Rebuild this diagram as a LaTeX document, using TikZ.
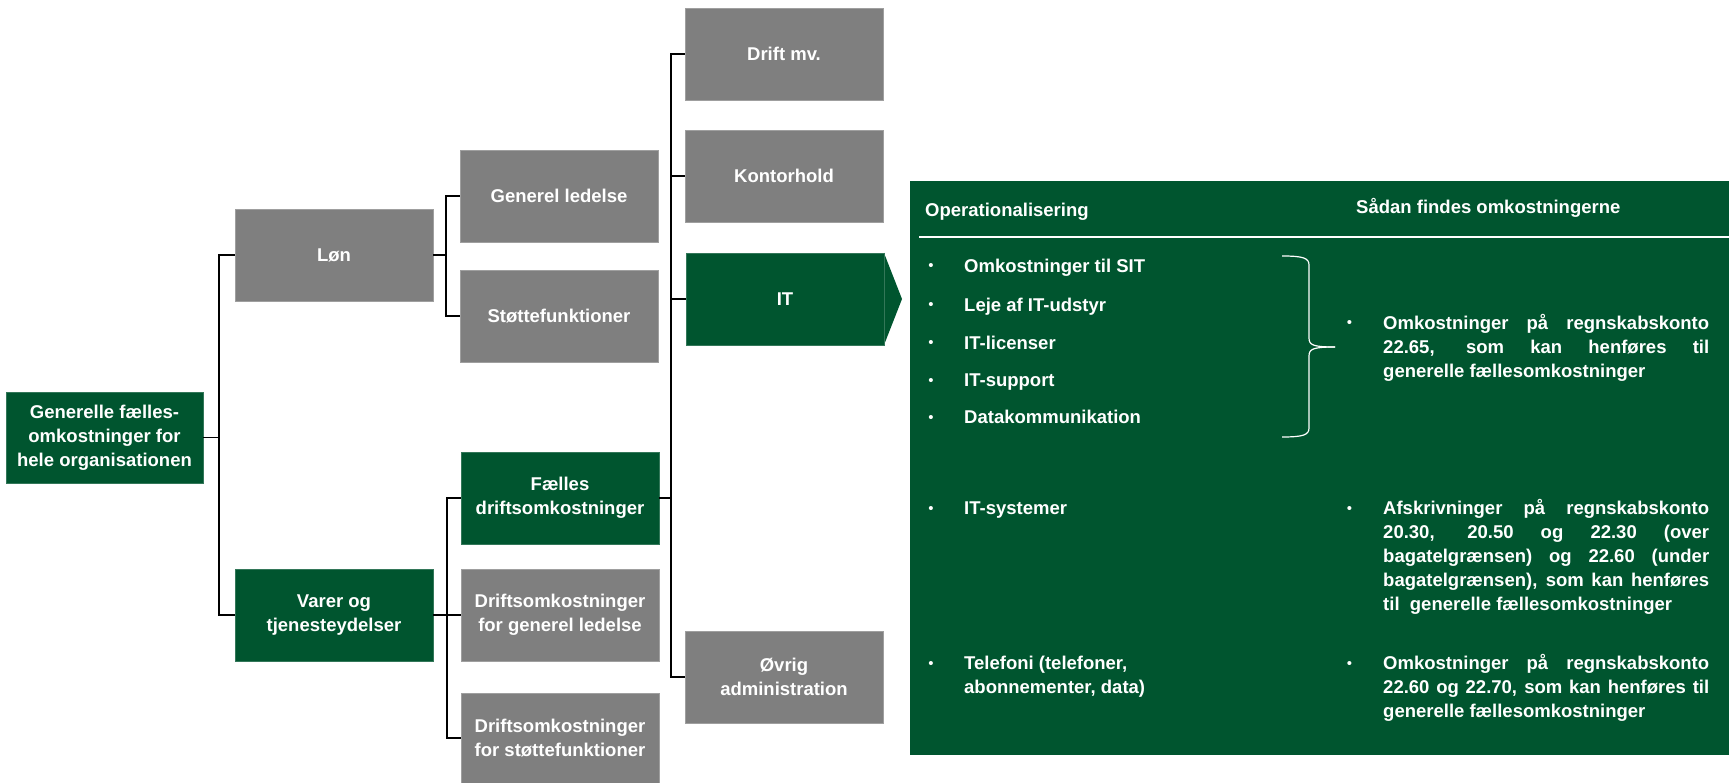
\documentclass[tikz,border=0pt]{standalone}
\usepackage{fontspec}
\setmainfont{Liberation Sans}
\usetikzlibrary{calc}
\definecolor{dkgreen}{HTML}{00552F}
\definecolor{boxgray}{HTML}{7F7F7F}
\tolerance=10000
\hbadness=10000
\newcommand{\jtext}[1]{\parbox[t]{326pt}{\tolerance=10000\hbadness=10000 #1}}
\begin{document}
\begin{tikzpicture}[x=1pt,y=-1pt,
  box/.style={minimum width=198pt, minimum height=92pt, inner sep=0pt, outer sep=0pt, text=white,
    font=\bfseries\fontsize{18.5}{24}\selectfont, align=center, anchor=north west},
  graybox/.style={box, fill=boxgray, draw=boxgray!75!white, line width=0.8pt},
  greenbox/.style={box, fill=dkgreen, draw=dkgreen!80!white, line width=0.8pt},
  conn/.style={draw=black, line width=1.7pt},
  ptext/.style={text=white, font=\bfseries\fontsize{18.5}{24}\selectfont, inner sep=0pt, anchor=base west},
  bul/.style={text=white, font=\fontsize{15}{15}\selectfont, inner sep=0pt, anchor=base},
]
\useasboundingbox (0,0) rectangle (1729,783);

% tree boxes
\node[greenbox, minimum width=197pt, minimum height=91pt] (root) at (6,392) {Generelle fælles-\\omkostninger for\\hele organisationen};
\node[graybox] (lon) at (235,209) {Løn};
\node[greenbox] (varer) at (235,569) {Varer og\\tjenesteydelser};
\node[graybox] (gl) at (460,150) {Generel ledelse};
\node[graybox] (sf) at (460,270) {Støttefunktioner};
\node[greenbox] (fd) at (461,452) {Fælles\\driftsomkostninger};
\node[graybox] (dgl) at (461,569) {Driftsomkostninger\\for generel ledelse};
\node[graybox, minimum height=90pt] (dsf) at (461,693) {Driftsomkostninger\\for støttefunktioner};
\node[graybox] (drift) at (685,8) {Drift mv.};
\node[graybox] (kontor) at (685,130) {Kontorhold};
\node[greenbox] (it) at (686,253) {IT};
\node[graybox] (ovrig) at (685,631) {Øvrig\\administration};

% IT arrow tip
\fill[dkgreen] (it.north east) -- ($(it.east)+(18,0)$) -- (it.south east) -- cycle;
\draw[dkgreen!80!white, line width=0.8pt] (it.north east) -- (it.south east);

% connectors
\draw[conn] (root.east) -- ++(16,0) |- (lon.west);
\draw[conn] (root.east) -- ++(16,0) |- (varer.west);
\draw[conn] (lon.east) -- ++(13,0) |- (gl.west);
\draw[conn] (lon.east) -- ++(13,0) |- (sf.west);
\draw[conn] (varer.east) -- ++(14,0) |- (fd.west);
\draw[conn] (varer.east) -- ++(14,0) |- (dgl.west);
\draw[conn] (varer.east) -- ++(14,0) |- (dsf.west);
\draw[conn] (fd.east) -- ++(12,0) |- (drift.west);
\draw[conn] (fd.east) -- ++(12,0) |- (kontor.west);
\draw[conn] (fd.east) -- ++(12,0) |- (it.west);
\draw[conn] (fd.east) -- ++(12,0) |- (ovrig.west);

% panel
\node[fill=dkgreen, minimum width=819pt, minimum height=574pt, anchor=north west, inner sep=0pt, outer sep=0pt] (panel) at (910,181) {};
\draw[white, line width=1.2pt] (919,237) -- (1729,237);

\node[ptext] (h1) at (925,216.5) {Operationalisering};
\node[ptext] (h2) at (1356,214) {Sådan findes omkostningerne};

% left items
\node[bul] (b1) at (931,271) {•};
\node[ptext] (t1) at (964,272.5) {Omkostninger til SIT};
\node[bul] (b2) at (931,310) {•};
\node[ptext] (t2) at (964,311.5) {Leje af IT-udstyr};
\node[bul] (b3) at (931,348) {•};
\node[ptext] (t3) at (964,349.5) {IT-licenser};
\node[bul] (b4) at (931,385) {•};
\node[ptext] (t4) at (964,386.5) {IT-support};
\node[bul] (b5) at (931,422) {•};
\node[ptext] (t5) at (964,423.5) {Datakommunikation};
\node[bul] (b6) at (931,513) {•};
\node[ptext] (t6) at (964,514.5) {IT-systemer};
\node[bul] (b7) at (931,668) {•};
\node[ptext] (t7) at (964,669.5) {\parbox[t]{300pt}{Telefoni (telefoner,\\abonnementer, data)}};

% brace
\draw[white, line width=1.2pt] (1282,256) .. controls (1303,256) and (1309,258) .. (1309,265)
  -- (1309,338) .. controls (1309,345) and (1313,347) .. (1335,347);
\draw[white, line width=1.2pt] (1335,347) .. controls (1313,347) and (1309,349) .. (1309,356)
  -- (1309,428) .. controls (1309,435) and (1303,437) .. (1282,437);

% right items
\node[bul] (rb1) at (1349.5,328) {•};
\node[ptext] (r1) at (1383,329.5) {\jtext{Omkostninger på regnskabskonto\linebreak 22.65, som kan henføres til\linebreak generelle fællesomkostninger}};
\node[bul] (rb2) at (1349.5,513) {•};
\node[ptext] (r2) at (1383,514.5) {\jtext{Afskrivninger på regnskabskonto\linebreak 20.30, 20.50 og 22.30 (over\linebreak bagatelgrænsen) og 22.60 (under\linebreak bagatelgrænsen), som kan henføres\linebreak til\ \ generelle fællesomkostninger}};
\node[bul] (rb3) at (1349.5,668) {•};
\node[ptext] (r3) at (1383,669.5) {\jtext{Omkostninger på regnskabskonto\linebreak 22.60 og 22.70, som kan henføres til\linebreak generelle fællesomkostninger}};
\end{tikzpicture}
\end{document}
